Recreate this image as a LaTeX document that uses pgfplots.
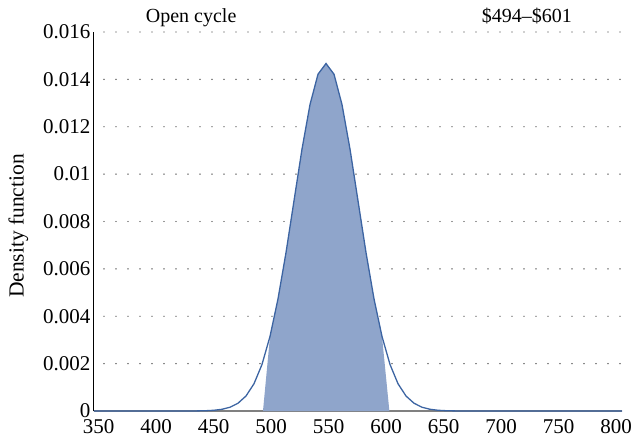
\documentclass[border=0pt]{standalone}
\usepackage{fontspec}
\setmainfont{Liberation Serif}
\usepackage{pgfplots}
\pgfplotsset{compat=1.18}
\definecolor{curveblue}{RGB}{60,100,162}
\definecolor{fillblue}{RGB}{143,165,203}
\begin{document}
\begin{tikzpicture}[font=\fontsize{20bp}{24bp}\selectfont]
\begin{axis}[
  scale only axis, width=528bp, height=379bp,
  xmin=346.05, xmax=805.2, ymin=0, ymax=0.016,
  clip=false,
  axis x line=bottom, axis y line=left,
  x axis line style={-, draw=black!50, line width=1.1bp},
  y axis line style={-, draw=black, line width=1bp},
  xtick={350,400,450,500,550,600,650,700,750,800},
  xticklabels={350,400,450,500,550,600,650,700,750,800},
  ytick={0,0.002,0.004,0.006,0.008,0.01,0.012,0.014,0.016},
  yticklabels={0,0.002,0.004,0.006,0.008,0.01,0.012,0.014,0.016},
  scaled ticks=false,
  major tick length=0pt,
  /pgf/number format/assume math mode=true,
  xticklabel style={font=\rmfamily\fontsize{21bp}{24bp}\selectfont, yshift=-5bp},
  yticklabel style={font=\rmfamily\fontsize{21bp}{24bp}\selectfont},
  ymajorgrids,
  grid style={black!80, line width=1.3bp, dash pattern=on 0bp off 12bp, dash phase=2bp, line cap=round},
  ylabel={Density function},
  ylabel style={font=\rmfamily\fontsize{21.5bp}{24bp}\selectfont, at={(axis description cs:-0.143,0.488)}, anchor=center},
]
\addplot[fill=fillblue, draw=none] coordinates {
(493.0,0) (499.10,0.003147) (506.06,0.004734) (513.02,0.006688) (519.97,0.008874)
(526.93,0.011057) (533.89,0.012937) (540.84,0.014217) (547.80,0.01467) (554.76,0.014217)
(561.71,0.012937) (568.67,0.011057) (575.63,0.008874) (582.59,0.006688) (589.54,0.004734)
(596.50,0.003147) (602.9,0)} -- cycle;
\addplot[curveblue, line width=1.3bp] coordinates {
(346.05,0) (429.54,0) (436.49,0.0000047) (443.45,0.0000125) (450.40,0.0000310)
(457.36,0.0000725) (464.32,0.000159) (471.27,0.000328) (478.23,0.000633)
(485.19,0.001151) (492.14,0.001964) (499.10,0.003147) (506.06,0.004734)
(513.02,0.006688) (519.97,0.008874) (526.93,0.011057) (533.89,0.012937)
(540.84,0.014217) (547.80,0.01467) (554.76,0.014217) (561.71,0.012937)
(568.67,0.011057) (575.63,0.008874) (582.59,0.006688) (589.54,0.004734)
(596.50,0.003147) (603.46,0.001964) (610.41,0.001151) (617.37,0.000633)
(624.33,0.000328) (631.28,0.000159) (638.24,0.0000725) (645.20,0.0000310)
(652.16,0.0000125) (659.11,0.0000047) (666.07,0) (805.2,0)};
\node[anchor=base] at (rel axis cs:0.184,1) [yshift=9bp] {Open cycle};
\node[anchor=base] at (rel axis cs:0.82,1) [yshift=9bp] {\$494--\$601};
\end{axis}
\pgfresetboundingbox
\path ([shift={(-94bp,-31bp)}]current axis.south west) rectangle ([shift={(10bp,32bp)}]current axis.north east);
\end{tikzpicture}
\end{document}
